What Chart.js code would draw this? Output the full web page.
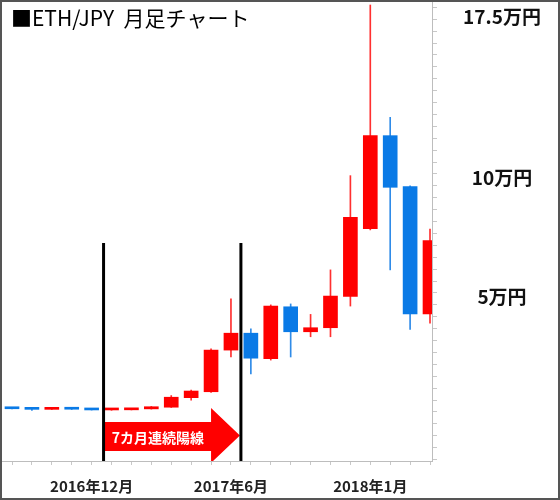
<!DOCTYPE html>
<html>
<head>
<meta charset="utf-8">
<script src="https://cdn.jsdelivr.net/npm/chart.js@4.4.1/dist/chart.umd.min.js"></script>
<style>
body { margin: 0; background: #fff; }
#wrap { position: relative; width: 560px; height: 500px; }
#frame { position: absolute; left: 0; top: 0; width: 560px; height: 500px; border: 2px solid #555; box-sizing: border-box; pointer-events: none; }
</style>
</head>
<body>
<div id="wrap">
  <canvas id="ethChart" width="560" height="500"></canvas>
  <div id="frame"></div>
</div>
<script>
// ETH/JPY monthly candles, 2016/07 - 2018/04 (yen)
const months = ['2016/07','2016/08','2016/09','2016/10','2016/11','2016/12',
                '2017/01','2017/02','2017/03','2017/04','2017/05','2017/06',
                '2017/07','2017/08','2017/09','2017/10','2017/11','2017/12',
                '2018/01','2018/02','2018/03','2018/04']
const opens  = [1650, 1350, 1100, 1450, 1150, 850, 900, 1300, 2000, 6000, 8500, 26000,
                33100, 22400, 44200, 33700, 35400, 48500, 77000, 116100, 94700, 41200]
const highs  = [1750, 1450, 1550, 1550, 1200, 1000, 1300, 2300, 6900, 9200, 26500, 47500,
                34900, 45000, 45400, 41000, 59700, 99300, 171000, 123800, 95000, 76800]
const lows   = [1250, 700, 1050, 1050, 800, 700, 850, 1200, 1900, 5000, 8200, 23100,
                16000, 21800, 23100, 31600, 31600, 44500, 76500, 59700, 34700, 37300]
const closes = [1350, 1100, 1450, 1150, 850, 900, 1150, 2200, 6200, 8800, 26000, 33100,
                22600, 44500, 33700, 35400, 48700, 81800, 116100, 94400, 41200, 72000]

const xTickLabels = ['2016年12月', '2017年6月', '2018年1月']
const xTickAt = [4, 11, 18]
const yTickLabels = ['17.5万円', '10万円', '5万円']
const yTickValues = [175000, 100000, 50000]

const chartTitle = '■ETH/JPY  月足チャート'
const streakText = '7カ月連続陽線'

const UP = '#ff0000'
const DOWN = '#0a7ae6'

let up = closes.map((c, i) => c >= opens[i])
let bodyColors = up.map(u => u ? UP : DOWN)
let wickColors = up.map(u => u ? '#ff3030' : '#2f8be8')

// annotation: two black lines around the 7-month streak and the red arrow between them
const notes = {
    id: 'notes',
    afterDatasetsDraw(chart) {
        const ctx = chart.ctx
        const area = chart.chartArea
        const x = chart.scales.x
        const y = chart.scales.y

        ctx.save()
        ctx.beginPath()
        ctx.rect(area.left, area.top, area.right - area.left, area.bottom - area.top)
        ctx.clip()

        // arrow
        let x0 = x.getPixelForValue(4.65)
        let xb = x.getPixelForValue(10)
        let xt = x.getPixelForValue(11.45)
        let bt = y.getPixelForValue(-4200)
        let bb = y.getPixelForValue(-16400)
        let ht = y.getPixelForValue(1700)
        let hb = y.getPixelForValue(-21400)
        ctx.fillStyle = '#ff0000'
        ctx.beginPath()
        ctx.moveTo(x0, bt)
        ctx.lineTo(xb, bt)
        ctx.lineTo(xb, ht)
        ctx.lineTo(xt, (ht + hb) / 2)
        ctx.lineTo(xb, hb)
        ctx.lineTo(xb, bb)
        ctx.lineTo(x0, bb)
        ctx.closePath()
        ctx.fill()

        ctx.fillStyle = '#fff'
        ctx.font = 'bold 14px "Noto Sans CJK JP"'
        ctx.textAlign = 'center'
        ctx.textBaseline = 'middle'
        ctx.fillText(streakText, (x0 + xb) / 2, (bt + bb) / 2 + 1)

        // black lines
        ctx.strokeStyle = '#000'
        ctx.lineWidth = 3
        let lineTop = y.getPixelForValue(71000)
        ;[4.6, 11.5].forEach(function(m){
            let px = x.getPixelForValue(m)
            ctx.beginPath()
            ctx.moveTo(px, lineTop)
            ctx.lineTo(px, area.bottom)
            ctx.stroke()
        })
        ctx.restore()

        // price labels on the right
        ctx.save()
        ctx.fillStyle = '#111'
        ctx.font = 'bold 19px "Noto Sans CJK JP"'
        ctx.textAlign = 'center'
        ctx.textBaseline = 'middle'
        let cx = (y.left + y.right) / 2 + 6
        for (let i = 0; i < yTickLabels.length; i++) {
            let py = Math.max(y.getPixelForValue(yTickValues[i]) + 4, 17)
            ctx.fillText(yTickLabels[i], cx, py)
        }

        // title
        ctx.fillStyle = '#000'
        ctx.font = '21px "Noto Sans CJK JP"'
        ctx.textAlign = 'left'
        ctx.fillText(chartTitle, 11, 18)
        ctx.restore()
    }
}

const ctx = document.getElementById('ethChart').getContext('2d')
const myChart = new Chart(ctx, {
    type: 'bar',
    data: {
        datasets: [{
            label: 'body',
            data: months.map((m, i) => ({x: i, y: [opens[i], closes[i]]})),
            backgroundColor: bodyColors,
            barThickness: 14,
            minBarLength: 2,
            grouped: false
        }, {
            label: 'wick',
            data: months.map((m, i) => ({x: i, y: [lows[i], highs[i]]})),
            backgroundColor: wickColors,
            barThickness: 1,
            grouped: false
        }]
    },
    options: {
        responsive: false,
        animation: false,
        layout: { padding: 0 },
        plugins: {
            legend: { display: false },
            title: { display: false },
            tooltip: { enabled: false }
        },
        scales: {
            x: {
                type: 'linear',
                offset: false,
                min: -0.5,
                max: 21.1,
                afterBuildTicks: function(scale){
                    scale.ticks = months.map((m, i) => ({value: i}))
                },
                afterFit: function(scale){ scale.height = 39 },
                grid: { offset: false, drawOnChartArea: false, tickLength: 4, color: '#c8c8c8' },
                border: { color: '#bdbdbd' },
                ticks: {
                    autoSkip: false,
                    maxRotation: 0,
                    padding: 12,
                    color: '#222',
                    font: { family: '"Noto Sans CJK JP"', size: 15, weight: 'bold' },
                    callback: function(value){
                        let k = xTickAt.indexOf(value)
                        return k >= 0 ? xTickLabels[k] : ''
                    }
                }
            },
            y: {
                type: 'linear',
                position: 'right',
                min: -20600,
                max: 173100,
                afterBuildTicks: function(scale){
                    let t = []
                    for (let v = -20000; v <= 170000; v += 5000) t.push({value: v})
                    scale.ticks = t
                },
                afterFit: function(scale){ scale.width = 128 },
                grid: { drawOnChartArea: false, tickLength: 5, color: '#c8c8c8' },
                border: { color: '#bdbdbd' },
                ticks: { display: false }
            }
        }
    },
    plugins: [notes]
})
</script>
</body>
</html>
